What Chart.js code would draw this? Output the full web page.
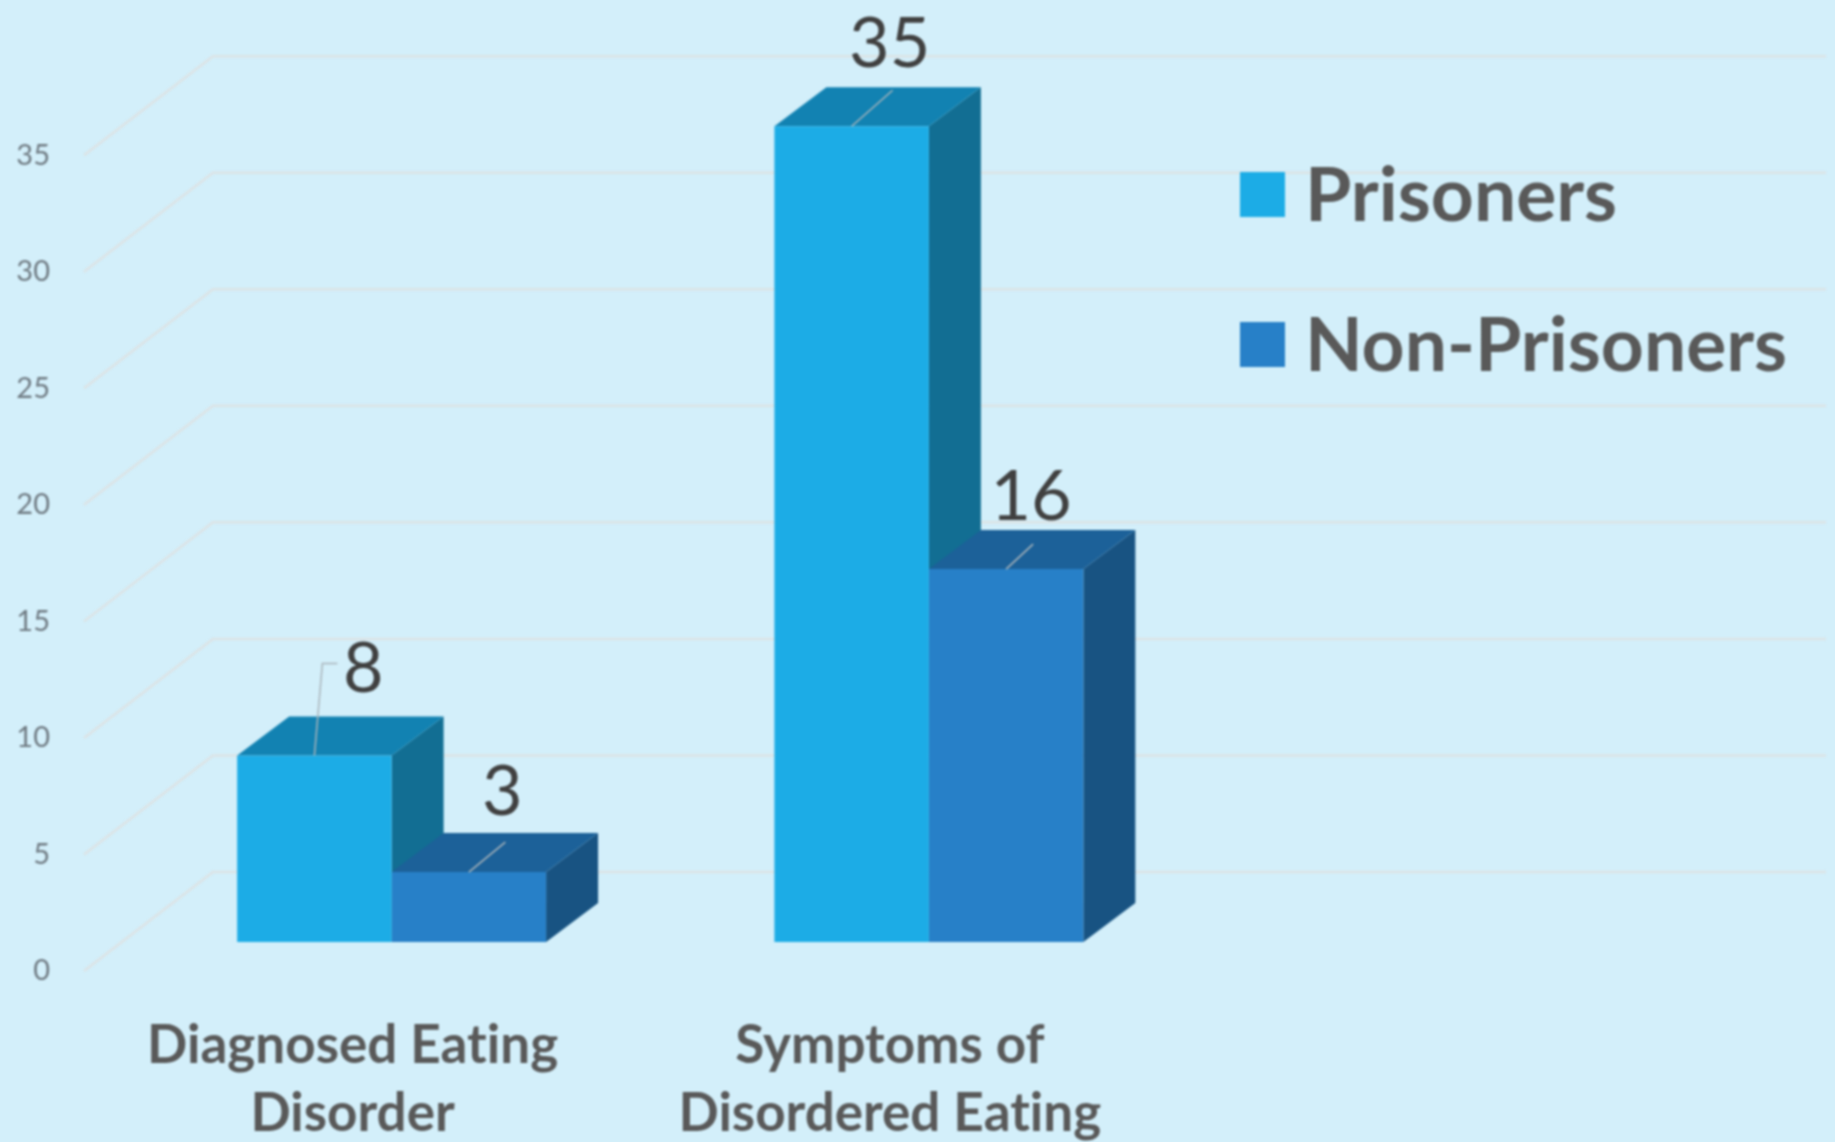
<!DOCTYPE html>
<html>
<head>
<meta charset="utf-8">
<title>Eating disorders</title>
<script src="https://cdn.jsdelivr.net/npm/chart.js@4"></script>
<style>
  html, body { margin: 0; padding: 0; background: #d3effa; }
  canvas { display: block; filter: blur(0.8px); }
</style>
</head>
<body>
<canvas id="chart" width="1835" height="1142"></canvas>
<script>
const categories = [['Diagnosed Eating', 'Disorder'], ['Symptoms of', 'Disordered Eating']];
const prisoners = [8, 35];
const nonPrisoners = [3, 16];
const yTicks = [0, 5, 10, 15, 20, 25, 30, 35];

// 3d look, the bars' side and top faces are pushed back by this much
const barDepthX = 52, barDepthY = 39;
const wallDepthX = 129, wallDepthY = 99, wallRight = 1826;

const sideColors = ['#126e93', '#185382'];
const topColors = ['#1282b2', '#1c6199'];

// where each value label sits relative to the top centre of its bar
const labelOffsets = [
  [[49, -86], [38, -82]],
  [[33.5, -80], [25, -72]]
];
// leader line from the top of the bar to the label
const leaderLines = [
  [[[8, -92], [23, -92]], [[41, -36]]],
  [[[36.5, -30]], [[27, -25]]]
];

const wallGrid = {
  id: 'wallGrid',
  beforeDraw(chart) {
    // Lato would otherwise join the "ti" in Eating
    chart.ctx.textRendering = 'optimizeSpeed';
  },
  beforeDatasetsDraw(chart) {
    const ctx = chart.ctx, s = chart.scales.yFront, x0 = s.right - 39;
    ctx.save();
    ctx.strokeStyle = '#dce3e5';
    ctx.lineWidth = 2.5;
    yTicks.forEach(v => {
      const y = s.getPixelForValue(v);
      ctx.beginPath();
      ctx.moveTo(x0, y);
      ctx.lineTo(x0 + wallDepthX, y - wallDepthY);
      ctx.lineTo(wallRight, y - wallDepthY);
      ctx.stroke();
    });
    ctx.restore();
  }
};

const bar3d = {
  id: 'bar3d',
  beforeDatasetsDraw(chart) {
    const ctx = chart.ctx;
    ctx.save();
    chart.data.datasets.forEach((ds, d) => {
      chart.getDatasetMeta(d).data.forEach(bar => {
        const l = bar.x - bar.width / 2, r = bar.x + bar.width / 2;
        ctx.fillStyle = sideColors[d];
        ctx.beginPath();
        ctx.moveTo(r, bar.y);
        ctx.lineTo(r + barDepthX, bar.y - barDepthY);
        ctx.lineTo(r + barDepthX, bar.base - barDepthY);
        ctx.lineTo(r, bar.base);
        ctx.closePath();
        ctx.fill();
        ctx.fillStyle = topColors[d];
        ctx.beginPath();
        ctx.moveTo(l, bar.y);
        ctx.lineTo(l + barDepthX, bar.y - barDepthY);
        ctx.lineTo(r + barDepthX, bar.y - barDepthY);
        ctx.lineTo(r, bar.y);
        ctx.closePath();
        ctx.fill();
      });
    });
    ctx.restore();
  },
  afterDatasetsDraw(chart) {
    const ctx = chart.ctx;
    ctx.save();
    chart.data.datasets.forEach((ds, d) => {
      chart.getDatasetMeta(d).data.forEach((bar, i) => {
        ctx.strokeStyle = '#a9b4ba';
        ctx.lineWidth = 1.5;
        ctx.beginPath();
        ctx.moveTo(bar.x, bar.y);
        leaderLines[d][i].forEach(p => ctx.lineTo(bar.x + p[0], bar.y + p[1]));
        ctx.stroke();
        ctx.fillStyle = '#404040';
        ctx.font = '70px Lato';
        ctx.textAlign = 'center';
        ctx.textBaseline = 'middle';
        ctx.fillText(String(ds.data[i]), bar.x + labelOffsets[d][i][0], bar.y + labelOffsets[d][i][1]);
      });
    });
    ctx.restore();
  }
};

// the native legend puts the text too far from the squares, so draw it here
const sideLegend = {
  id: 'sideLegend',
  afterDraw(chart) {
    const ctx = chart.ctx;
    ctx.save();
    ctx.font = 'bold 75px Lato';
    ctx.textBaseline = 'middle';
    chart.data.datasets.forEach((ds, d) => {
      const y = 195 + d * 150;
      ctx.fillStyle = ds.backgroundColor;
      ctx.fillRect(1240, y - 23, 45, 45);
      ctx.fillStyle = '#595959';
      ctx.fillText(ds.label, 1305, y + 2);
    });
    ctx.restore();
  }
};

new Chart(document.getElementById('chart'), {
  type: 'bar',
  data: {
    labels: categories,
    datasets: [
      { label: 'Prisoners', data: prisoners, backgroundColor: '#1cace6', yAxisID: 'y' },
      { label: 'Non-Prisoners', data: nonPrisoners, backgroundColor: '#2780c8', yAxisID: 'y' }
    ]
  },
  plugins: [wallGrid, bar3d, sideLegend],
  options: {
    responsive: false,
    animation: false,
    layout: { padding: { right: 637.5 } },
    categoryPercentage: 0.575,
    barPercentage: 1,
    scales: {
      x: {
        grid: { display: false },
        border: { display: false },
        afterFit(s) { s.height = 171; },
        ticks: {
          color: '#595959',
          font: { family: 'Lato', size: 53, weight: 'bold', lineHeight: 1.3 },
          padding: 32,
          labelOffset: -39,
          maxRotation: 0,
          autoSkip: false
        }
      },
      y: { display: false, min: -1.244, max: 36.54 },
      yFront: {
        position: 'left',
        min: 0,
        max: 37.78,
        grid: { display: false, drawTicks: false },
        border: { display: false },
        afterFit(s) { s.width = 123; },
        afterBuildTicks(s) { s.ticks = yTicks.map(v => ({ value: v })); },
        ticks: {
          color: '#6f7a82',
          font: { family: 'Lato', size: 29 },
          padding: 73
        }
      }
    },
    plugins: {
      title: { display: false },
      tooltip: { enabled: false },
      legend: { display: false }
    }
  }
});
</script>
</body>
</html>
